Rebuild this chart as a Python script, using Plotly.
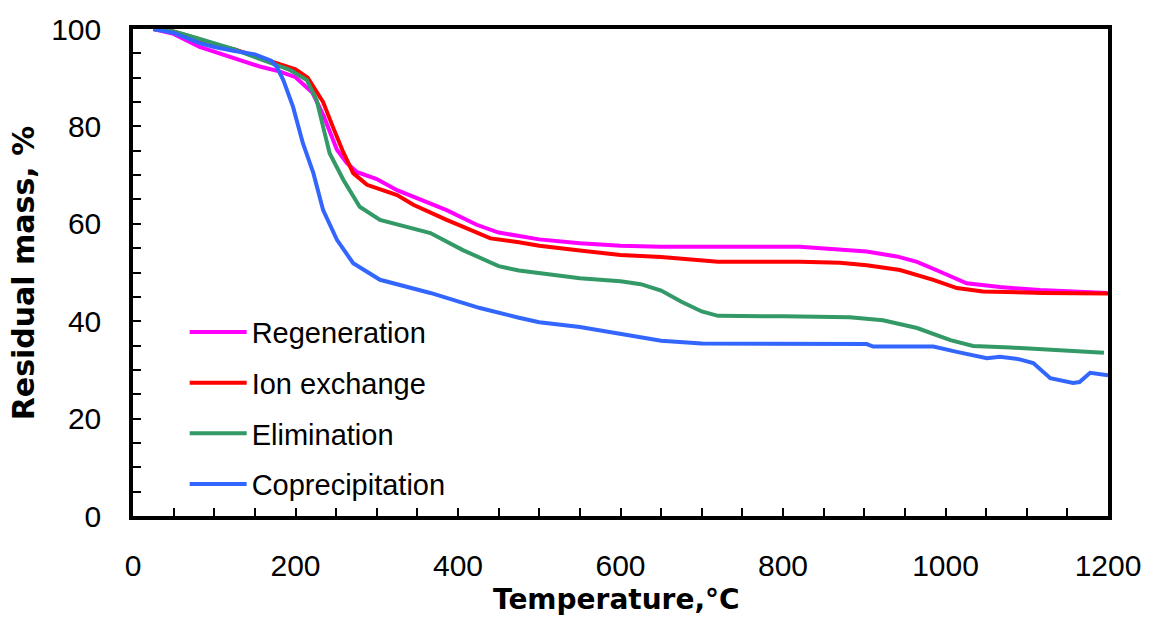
import plotly.graph_objects as go

# ---------------- data ----------------
regen_T = [25, 50, 82, 100, 125, 156, 180, 200, 221, 235, 251, 263, 276, 300, 325, 350, 386, 423, 450,
           500, 550, 600, 650, 821, 870, 903, 940, 965, 997, 1026, 1067, 1116, 1199]
regen_M = [100, 99.0, 96.3, 95.3, 94.0, 92.3, 91.3, 90.1, 86.9, 82.0, 75.2, 72.5, 70.6, 69.2, 66.9, 65.3, 62.8, 59.8, 58.2,
           56.8, 56.0, 55.5, 55.3, 55.3, 54.8, 54.3, 53.3, 52.2, 49.9, 47.8, 47.0, 46.4, 45.8]

ion_T = [25, 50, 75, 100, 125, 150, 175, 200, 215, 225, 234, 246, 258, 271, 288, 325, 345, 386, 423, 440,
         475, 500, 550, 600, 650, 700, 720, 821, 870, 903, 944, 985, 1014, 1046, 1120, 1200]
ion_M = [100, 99.5, 98.2, 96.8, 95.8, 94.5, 93.2, 91.7, 90.0, 87.5, 85.0, 79.9, 75.0, 70.4, 68.0, 65.9, 63.9, 60.8, 58.1, 57.0,
         56.2, 55.5, 54.5, 53.6, 53.2, 52.5, 52.2, 52.2, 52.0, 51.5, 50.5, 48.5, 46.8, 46.1, 45.8, 45.7]

elim_T = [25, 50, 75, 100, 125, 150, 175, 193, 214, 226, 234, 242, 259, 279, 304, 366, 406, 427, 450, 475,
          500, 550, 600, 625, 650, 675, 700, 720, 800, 882, 923, 965, 1006, 1034, 1080, 1116, 1150, 1190, 1195]
elim_M = [100, 99.5, 98.3, 97.0, 95.8, 94.2, 92.8, 91.6, 89.5, 85.4, 79.9, 74.5, 69.0, 63.5, 60.8, 58.1, 54.6, 53.0, 51.3, 50.4,
          49.8, 48.8, 48.2, 47.6, 46.3, 44.0, 42.0, 41.1, 41.0, 40.8, 40.2, 38.6, 36.1, 34.9, 34.6, 34.3, 34.0, 33.7, 33.5]

copr_T = [25, 50, 82, 100, 125, 150, 170, 177, 185, 197, 209, 222, 234, 251, 271, 304, 366, 427, 475,
          500, 550, 600, 650, 700, 800, 903, 911, 985, 1014, 1051, 1067, 1090, 1108, 1120, 1129, 1157, 1165, 1178, 1200]
copr_M = [100, 99.2, 97.1, 96.3, 95.5, 94.8, 93.5, 92.2, 89.5, 84.0, 76.6, 70.4, 62.8, 56.7, 51.9, 48.5, 45.8, 42.7, 40.7,
          39.8, 38.8, 37.5, 36.0, 35.4, 35.4, 35.3, 34.8, 34.8, 33.7, 32.4, 32.7, 32.2, 31.4, 29.5, 28.3, 27.3, 27.5, 29.4, 28.9]

series = [
    ("Regeneration", regen_T, regen_M, "#FF00FF"),
    ("Ion exchange", ion_T, ion_M, "#FF0000"),
    ("Elimination", elim_T, elim_M, "#339966"),
    ("Coprecipitation", copr_T, copr_M, "#3366FF"),
]

x_ticks = [0, 200, 400, 600, 800, 1000, 1200]
y_ticks = [0, 20, 40, 60, 80, 100]

fig = go.Figure()
for name, t, m, col in series:
    fig.add_trace(go.Scatter(x=t, y=m, mode="lines", name=name, legendgroup=name,
                             line=dict(color=col, width=4)))

axis_common = dict(
    showline=True, linecolor="black", linewidth=3.5, mirror=True,
    showgrid=False, zeroline=False,
    ticks="inside", ticklen=8, tickwidth=2, tickcolor="black",
    tickfont=dict(family="Liberation Sans, Arial", size=30, color="black"),
)

fig.update_xaxes(range=[0, 1200], tickvals=x_ticks, ticklabelstandoff=20,
                 minor=dict(dtick=50, ticks="inside", ticklen=8, tickwidth=2, tickcolor="black"),
                 **axis_common)
fig.update_yaxes(range=[0, 100], tickvals=y_ticks, ticklabelstandoff=22,
                 minor=dict(dtick=5, ticks="inside", ticklen=8, tickwidth=2, tickcolor="black"),
                 **axis_common)

fig.add_annotation(text="<b>Residual mass, %</b>", xref="paper", yref="paper",
                   x=-0.112, y=0.5, xanchor="center", yanchor="middle", textangle=-90,
                   showarrow=False, font=dict(family="DejaVu Sans", size=30, color="black"))
fig.add_annotation(text="<b>Temperature,°C</b>", xref="paper", yref="paper",
                   x=0.4964, y=-0.172, xanchor="center", yanchor="middle",
                   showarrow=False, font=dict(family="DejaVu Sans", size=28, color="black"))

fig.update_layout(
    width=1152, height=619,
    margin=dict(l=133, r=44, t=29, b=103),
    paper_bgcolor="white", plot_bgcolor="white",
    legend=dict(x=0.053, y=0.43, xanchor="left", yanchor="top",
                bgcolor="rgba(0,0,0,0)", borderwidth=0,
                font=dict(family="Liberation Sans, Arial", size=29, color="black"),
                tracegroupgap=10, itemwidth=57),
    showlegend=True,
)

fig.write_html("out.html")
